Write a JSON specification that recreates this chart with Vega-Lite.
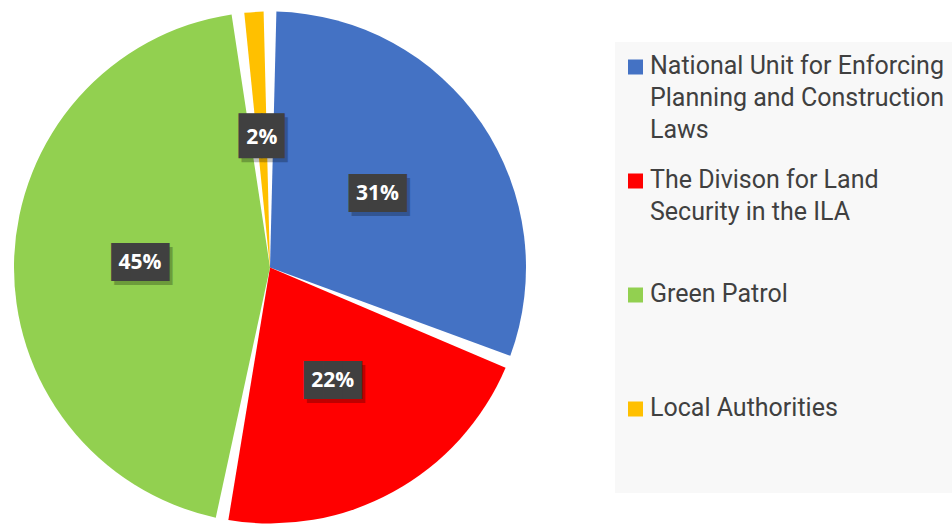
{
  "$schema": "https://vega.github.io/schema/vega-lite/v6.json",
  "width": 540,
  "height": 535,
  "padding": 0,
  "autosize": {"type": "pad"},
  "background": "white",
  "view": {"stroke": null},
  "data": {
    "values": [
      {"agency": "National Unit for Enforcing Planning and Construction Laws", "value": 31, "label": "31%", "order": 1},
      {"agency": "The Divison for Land Security in the ILA", "value": 22, "label": "22%", "order": 2},
      {"agency": "Green Patrol", "value": 45, "label": "45%", "order": 3},
      {"agency": "Local Authorities", "value": 2, "label": "2%", "order": 4}
    ]
  },
  "encoding": {
    "theta": {"field": "value", "type": "quantitative", "stack": true},
    "order": {"field": "order", "type": "quantitative"}
  },
  "layer": [
    {
      "mark": {"type": "arc", "outerRadius": 256, "padAngle": 0.05},
      "encoding": {
        "color": {
          "field": "agency",
          "type": "nominal",
          "scale": {
            "domain": ["National Unit for Enforcing Planning and Construction Laws", "The Divison for Land Security in the ILA", "Green Patrol", "Local Authorities"],
            "range": ["#4472C4", "#FF0000", "#92D050", "#FFC000"]
          },
          "legend": {
            "orient": "none",
            "legendX": 615,
            "legendY": 42,
            "title": null,
            "fillColor": "#f8f8f8",
            "padding": 8,
            "symbolType": "M-1,-0.4H1V1.6H-1Z",
            "symbolSize": 225,
            "symbolStrokeWidth": 0,
            "labelFont": "Roboto",
            "labelFontSize": 25,
            "labelColor": "#404040",
            "labelLimit": 400,
            "labelBaseline": "top",
            "labelOffset": 2,
            "rowPadding": 21,
            "labelExpr": "datum.label == 'National Unit for Enforcing Planning and Construction Laws' ? ['National Unit for Enforcing','Planning and Construction','Laws'] : datum.label == 'The Divison for Land Security in the ILA' ? ['The Divison for Land','Security in the ILA',' '] : [datum.label,' ',' ']",
            "encode": {"labels": {"update": {"lineHeight": {"value": 32}, "dy": {"value": -9}}}}
          }
        }
      }
    },
    {
      "mark": {"type": "text", "radius": 130, "font": "DejaVu Sans Mono", "color": "#000000", "opacity": 0.25, "dx": 3, "dy": 4},
      "encoding": {
        "detail": {"field": "agency"},
        "text": {"condition": {"test": "datum.value < 5", "value": "██"}, "value": "███"},
        "size": {"condition": {"test": "datum.value < 5", "value": 38}, "value": 32}
      }
    },
    {
      "mark": {"type": "text", "radius": 130, "font": "DejaVu Sans Mono", "color": "#404040"},
      "encoding": {
        "detail": {"field": "agency"},
        "text": {"condition": {"test": "datum.value < 5", "value": "██"}, "value": "███"},
        "size": {"condition": {"test": "datum.value < 5", "value": 38}, "value": 32}
      }
    },
    {
      "mark": {"type": "text", "radius": 130, "font": "Open Sans", "fontWeight": "bold", "fontSize": 21, "color": "white"},
      "encoding": {"text": {"field": "label"}, "detail": {"field": "agency"}}
    }
  ]
}
